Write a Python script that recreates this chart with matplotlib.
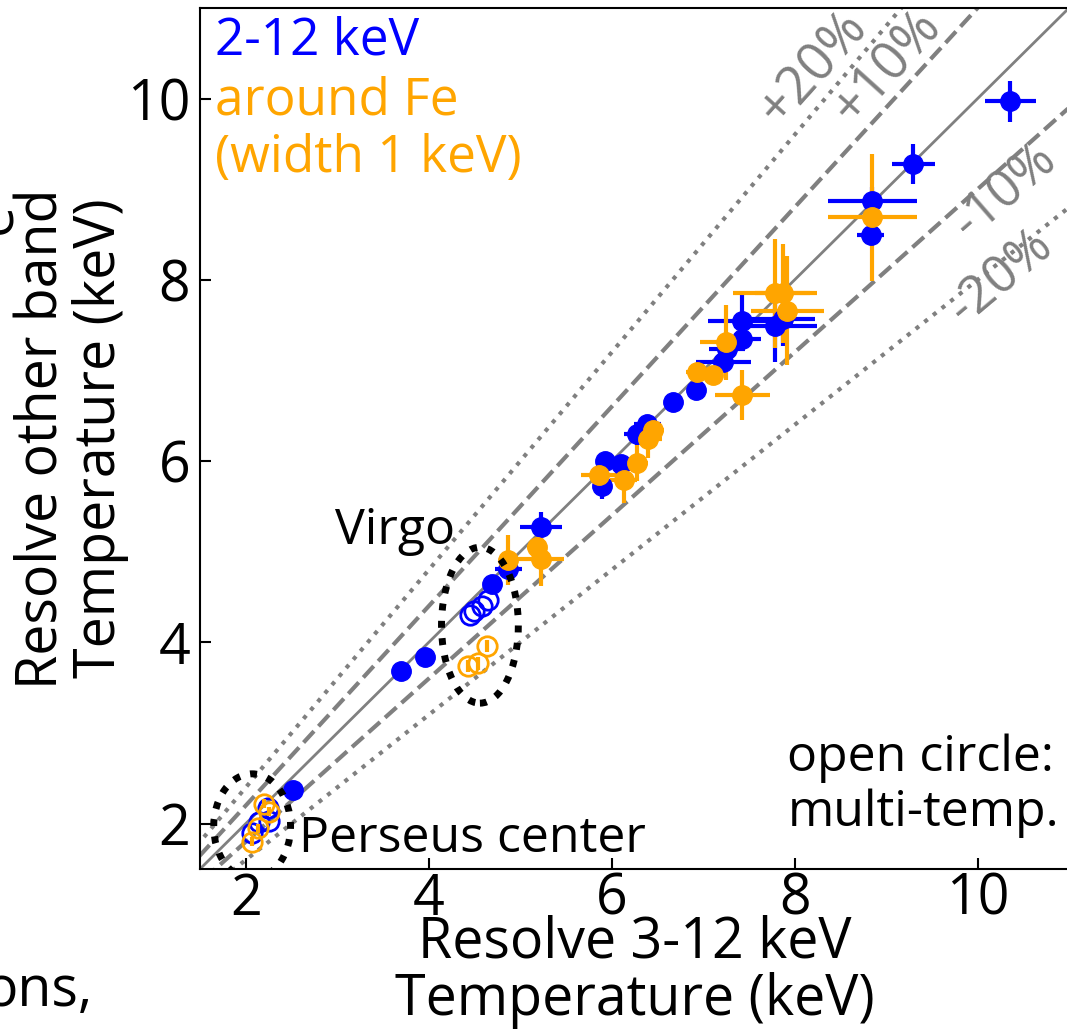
import matplotlib
matplotlib.use("Agg")
import matplotlib.pyplot as plt
from matplotlib.patches import Ellipse
import numpy as np

plt.rcParams['font.family'] = ['Open Sans', 'DejaVu Sans']

# filled points: 2-12 keV band (blue)
blue_x = [2.52, 3.70, 3.96, 4.69, 4.87, 5.23, 5.93, 5.90, 6.10, 6.28, 6.39, 6.67,
          6.92, 7.22, 7.26, 7.43, 7.42, 7.79, 7.87, 8.83, 8.85, 9.30, 10.36]
blue_y = [2.37, 3.69, 3.84, 4.64, 4.81, 5.27, 6.00, 5.73, 5.97, 6.30, 6.41, 6.65,
          6.79, 7.09, 7.24, 7.35, 7.55, 7.49, 7.57, 8.49, 8.87, 9.28, 9.97]
blue_xerr = [0, 0, 0, 0, 0.15, 0.23, 0.08, 0.08, 0.08, 0.15, 0.15, 0.05,
             0.10, 0.30, 0.20, 0.20, 0.37, 0.45, 0.35, 0.15, 0.49, 0.24, 0.28]
blue_yerr = [0, 0, 0, 0, 0.05, 0.17, 0.08, 0.15, 0.10, 0.12, 0.10, 0.05,
             0.05, 0.10, 0.15, 0.10, 0.28, 0.40, 0.30, 0.10, 0.15, 0.22, 0.23]

# filled points: band around Fe (orange)
fe_x = [4.87, 5.18, 5.23, 5.86, 6.13, 6.28, 6.40, 6.45, 6.93, 7.11, 7.25, 7.43,
        7.79, 7.87, 7.92, 8.85]
fe_y = [4.91, 5.05, 4.92, 5.85, 5.79, 5.98, 6.24, 6.34, 6.98, 6.95, 7.31, 6.73,
        7.85, 7.85, 7.66, 8.69]
fe_xerr = [0.10, 0.10, 0.25, 0.20, 0.15, 0.12, 0.15, 0.12, 0.12, 0.10, 0.28, 0.30,
           0.46, 0.30, 0.40, 0.49]
fe_yerr = [0.28, 0.10, 0.30, 0.10, 0.25, 0.20, 0.20, 0.15, 0.10, 0.10, 0.41, 0.28,
           0.60, 0.55, 0.60, 0.70]

# open circles: multi-temperature fits
blue_open_x = [2.07, 2.15, 2.25, 2.24, 4.45, 4.50, 4.58, 4.65]
blue_open_y = [1.90, 2.02, 2.03, 2.17, 4.30, 4.35, 4.40, 4.47]
fe_open_x = [2.07, 2.13, 2.20, 2.25, 4.43, 4.54, 4.64]
fe_open_y = [1.80, 1.95, 2.22, 2.13, 3.74, 3.77, 3.96]
fe_open_yerr = [0.05, 0.05, 0.05, 0.05, 0.07, 0.07, 0.07]

ratios = [1.0, 1.1, 0.9, 1.2, 0.8]
ratio_styles = ['-', '--', '--', ':', ':']
ratio_labels = ['+20%', '+10%', '-10%', '-20%']

fig = plt.figure(figsize=(10.67, 10.29), dpi=100)
ax = fig.add_axes([200 / 1067, 160 / 1029, 869 / 1067, 861 / 1029])

xx = np.array([1.0, 12.0])
for r, ls in zip(ratios, ratio_styles):
    lw = 2 if ls == '-' else 3
    ax.plot(xx, r * xx, color='gray', ls=ls, lw=lw, zorder=1)

# percentage labels along the lines
ax.text(8.21, 10.33, ratio_labels[0], color='gray', fontsize=38, rotation=48,
        ha='center', va='center', rotation_mode='anchor')
ax.text(9.02, 10.34, ratio_labels[1], color='gray', fontsize=38, rotation=48,
        ha='center', va='center', rotation_mode='anchor')
ax.text(10.30, 8.97, ratio_labels[2], color='gray', fontsize=37, rotation=41,
        ha='center', va='center', rotation_mode='anchor')
ax.text(10.26, 8.03, ratio_labels[3], color='gray', fontsize=37, rotation=40,
        ha='center', va='center', rotation_mode='anchor')

ax.errorbar(blue_x, blue_y, xerr=blue_xerr, yerr=blue_yerr, fmt='o', color='blue',
            ms=14, elinewidth=3, capsize=0, zorder=3)
ax.errorbar(fe_x, fe_y, xerr=fe_xerr, yerr=fe_yerr, fmt='o', color='orange',
            ms=14, elinewidth=3, capsize=0, zorder=3)
ax.plot(blue_open_x, blue_open_y, 'o', mfc='none', mec='blue', mew=2, ms=14, zorder=3)
ax.errorbar(fe_open_x, fe_open_y, yerr=fe_open_yerr, fmt='o', mfc='none', mec='orange',
            ecolor='orange', mew=2, ms=14, elinewidth=3, capsize=0, zorder=3)

for cx, cy, w, h in [(4.56, 4.19, 0.84, 1.72), (2.07, 1.97, 0.84, 1.16)]:
    ax.add_patch(Ellipse((cx, cy), w, h, fill=False, ec='black', lw=5,
                         ls=(0, (1, 1.5)), zorder=4))

ax.text(2.98, 5.23, 'Virgo', fontsize=36, ha='left', va='center')
ax.text(2.58, 1.83, 'Perseus center', fontsize=36, ha='left', va='center')
ax.text(7.92, 2.42, 'open circle:\nmulti-temp.', fontsize=36, ha='left', va='center',
        linespacing=1.15)

ax.text(0.017, 0.962, '2-12 keV', color='blue', fontsize=37, transform=ax.transAxes,
        ha='left', va='center')
ax.text(0.017, 0.892, 'around Fe', color='orange', fontsize=37, transform=ax.transAxes,
        ha='left', va='center')
ax.text(0.017, 0.825, '(width 1 keV)', color='orange', fontsize=37,
        transform=ax.transAxes, ha='left', va='center')

ax.set_xlim(1.5, 11)
ax.set_ylim(1.5, 11)
ax.set_xticks([2, 4, 6, 8, 10])
ax.set_yticks([2, 4, 6, 8, 10])
ax.tick_params(direction='in', length=8, width=1.5, labelsize=40)
ax.tick_params(axis='x', pad=2)
ax.tick_params(axis='y', pad=7)
for s in ax.spines.values():
    s.set_linewidth(1.5)

ax.set_xlabel('Resolve 3-12 keV\nTemperature (keV)', fontsize=40, linespacing=1.02)
ax.xaxis.set_label_coords(0.5, -0.053, transform=ax.transAxes)
ax.xaxis.label.set_va('top')
ax.set_ylabel('Resolve other band\nTemperature (keV)', fontsize=40, linespacing=1.0)
ax.yaxis.set_label_coords(-0.082, 0.5)

# pieces of neighbouring text cut off at the left edge
fig.text(-0.003, 1 - 218 / 1029, 'e', fontsize=40, rotation=90, ha='center', va='center')
fig.text(-0.014, 1 - 1006 / 1029, 'ons,', fontsize=40, ha='left', va='baseline')

fig.savefig('out.png', dpi=100)
